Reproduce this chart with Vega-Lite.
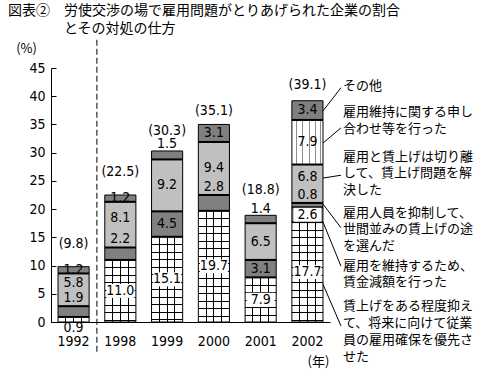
{
  "$schema": "https://vega.github.io/schema/vega-lite/v6.json",
  "autosize": "none",
  "width": 279,
  "height": 254,
  "padding": {"left": 51, "top": 68, "right": 150, "bottom": 51},
  "background": "white",
  "config": {
    "view": {"stroke": null},
    "axisY": {
      "grid": false, "tickCount": 10, "labelOverlap": false, "tickSize": -5, "tickColor": "black", "domainColor": "black", "labelPadding": 11,
      "labelFont": "Liberation Sans Narrow, DejaVu Sans Condensed, Noto Sans CJK JP", "labelFontSize": 14, "labelColor": "black",
      "titleAngle": 0, "titleX": -25, "titleY": -20, "titleAlign": "center", "titleBaseline": "middle",
      "titleFont": "Noto Sans CJK JP", "titleFontSize": 13, "titleFontWeight": "normal", "titleColor": "black"
    }
  },
  "title": {
    "text": ["図表②　労使交渉の場で雇用問題がとりあげられた企業の割合", "\u200b　　　　とその対処の仕方"],
    "anchor": "start", "frame": "group", "dx": -43, "offset": 3,
    "font": "Noto Sans CJK JP", "fontSize": 14, "fontWeight": "normal", "lineHeight": 18, "color": "black"
  },
  "datasets": {
    "main": [
      {"year": "1992", "cat": "賃上げをある程度抑えて、将来に向けて従業員の雇用確保を優先させた", "v": 0.9},
      {"year": "1992", "cat": "雇用を維持するため、賃金減額を行った", "v": 1.9},
      {"year": "1992", "cat": "雇用と賃上げは切り離して、賃上げ問題を解決した", "v": 5.8},
      {"year": "1992", "cat": "その他", "v": 1.2},
      {"year": "1998", "cat": "賃上げをある程度抑えて、将来に向けて従業員の雇用確保を優先させた", "v": 11.0},
      {"year": "1998", "cat": "雇用を維持するため、賃金減額を行った", "v": 2.2},
      {"year": "1998", "cat": "雇用と賃上げは切り離して、賃上げ問題を解決した", "v": 8.1},
      {"year": "1998", "cat": "その他", "v": 1.2},
      {"year": "1999", "cat": "賃上げをある程度抑えて、将来に向けて従業員の雇用確保を優先させた", "v": 15.1},
      {"year": "1999", "cat": "雇用を維持するため、賃金減額を行った", "v": 4.5},
      {"year": "1999", "cat": "雇用と賃上げは切り離して、賃上げ問題を解決した", "v": 9.2},
      {"year": "1999", "cat": "その他", "v": 1.5},
      {"year": "2000", "cat": "賃上げをある程度抑えて、将来に向けて従業員の雇用確保を優先させた", "v": 19.7},
      {"year": "2000", "cat": "雇用を維持するため、賃金減額を行った", "v": 2.8},
      {"year": "2000", "cat": "雇用と賃上げは切り離して、賃上げ問題を解決した", "v": 9.4},
      {"year": "2000", "cat": "その他", "v": 3.1},
      {"year": "2001", "cat": "賃上げをある程度抑えて、将来に向けて従業員の雇用確保を優先させた", "v": 7.9},
      {"year": "2001", "cat": "雇用を維持するため、賃金減額を行った", "v": 3.1},
      {"year": "2001", "cat": "雇用と賃上げは切り離して、賃上げ問題を解決した", "v": 6.5},
      {"year": "2001", "cat": "その他", "v": 1.4},
      {"year": "2002", "cat": "賃上げをある程度抑えて、将来に向けて従業員の雇用確保を優先させた", "v": 17.7},
      {"year": "2002", "cat": "雇用を維持するため、賃金減額を行った", "v": 2.6},
      {"year": "2002", "cat": "雇用人員を抑制して、世間並みの賃上げの途を選んだ", "v": 0.8},
      {"year": "2002", "cat": "雇用と賃上げは切り離して、賃上げ問題を解決した", "v": 6.8},
      {"year": "2002", "cat": "雇用維持に関する申し合わせ等を行った", "v": 7.9},
      {"year": "2002", "cat": "その他", "v": 3.4}
    ],
    "totals": [
      {"year": "1992", "total": 9.8},
      {"year": "1998", "total": 22.5},
      {"year": "1999", "total": 30.3},
      {"year": "2000", "total": 35.1},
      {"year": "2001", "total": 18.8},
      {"year": "2002", "total": 39.1}
    ]
  },
  "data": {"name": "main"},
  "transform": [
    {"calculate": "indexof(['賃上げをある程度抑えて、将来に向けて従業員の雇用確保を優先させた','雇用を維持するため、賃金減額を行った','雇用人員を抑制して、世間並みの賃上げの途を選んだ','雇用と賃上げは切り離して、賃上げ問題を解決した','雇用維持に関する申し合わせ等を行った','その他'], datum.cat)", "as": "k"},
    {"stack": "v", "groupby": ["year"], "sort": [{"field": "k", "order": "ascending"}], "as": ["y0", "y1"]}
  ],
  "encoding": {
    "x": {
      "field": "year", "type": "nominal",
      "scale": {"domain": ["1992", "1998", "1999", "2000", "2001", "2002"], "paddingInner": 0.335, "paddingOuter": 0.15},
      "axis": {
        "title": "(年)", "labelAngle": 0, "ticks": false, "labelPadding": 12,
        "labelFont": "Liberation Sans Narrow, DejaVu Sans Condensed, Noto Sans CJK JP", "labelFontSize": 14, "labelColor": "black",
        "domainColor": "black", "domainWidth": 1,
        "titleX": 267, "titleY": 39, "titleAlign": "center", "titleBaseline": "middle", "titleAnchor": null,
        "titleFont": "Noto Sans CJK JP", "titleFontSize": 13, "titleFontWeight": "normal", "titleColor": "black"
      }
    }
  },
  "layer": [
    {
      "mark": {"type": "bar", "stroke": "black", "strokeWidth": 1},
      "encoding": {
        "y": {
          "field": "y1", "type": "quantitative",
          "scale": {"domain": [0, 45], "nice": false},
          "axis": {"values": [0, 5, 10, 15, 20, 25, 30, 35, 40, 45], "title": "(%)"}
        },
        "y2": {"field": "y0"},
        "fill": {
          "field": "cat", "type": "nominal", "legend": null,
          "scale": {
            "domain": ["賃上げをある程度抑えて、将来に向けて従業員の雇用確保を優先させた", "雇用を維持するため、賃金減額を行った", "雇用人員を抑制して、世間並みの賃上げの途を選んだ", "雇用と賃上げは切り離して、賃上げ問題を解決した", "雇用維持に関する申し合わせ等を行った", "その他"],
            "range": ["#ffffff", "#808080", "#808080", "#c0c0c0", "#ffffff", "#808080"]
          }
        }
      }
    },
    {
      "transform": [{"filter": "datum.k==0 && datum.year=='1998'"}],
      "mark": {"type": "bar", "stroke": null, "fill": {"gradient": "linear", "x1": 0, "y1": 0, "x2": 0, "y2": 1, "stops": [
        {"offset": 0.1208, "color": "rgba(0,0,0,0)"}, {"offset": 0.1208, "color": "#000"}, {"offset": 0.1369, "color": "#000"}, {"offset": 0.1369, "color": "rgba(0,0,0,0)"},
        {"offset": 0.2416, "color": "rgba(0,0,0,0)"}, {"offset": 0.2416, "color": "#000"}, {"offset": 0.2577, "color": "#000"}, {"offset": 0.2577, "color": "rgba(0,0,0,0)"},
        {"offset": 0.3624, "color": "rgba(0,0,0,0)"}, {"offset": 0.3624, "color": "#000"}, {"offset": 0.3785, "color": "#000"}, {"offset": 0.3785, "color": "rgba(0,0,0,0)"},
        {"offset": 0.4832, "color": "rgba(0,0,0,0)"}, {"offset": 0.4832, "color": "#000"}, {"offset": 0.4993, "color": "#000"}, {"offset": 0.4993, "color": "rgba(0,0,0,0)"},
        {"offset": 0.6040, "color": "rgba(0,0,0,0)"}, {"offset": 0.6040, "color": "#000"}, {"offset": 0.6201, "color": "#000"}, {"offset": 0.6201, "color": "rgba(0,0,0,0)"},
        {"offset": 0.7248, "color": "rgba(0,0,0,0)"}, {"offset": 0.7248, "color": "#000"}, {"offset": 0.7409, "color": "#000"}, {"offset": 0.7409, "color": "rgba(0,0,0,0)"},
        {"offset": 0.8456, "color": "rgba(0,0,0,0)"}, {"offset": 0.8456, "color": "#000"}, {"offset": 0.8617, "color": "#000"}, {"offset": 0.8617, "color": "rgba(0,0,0,0)"},
        {"offset": 0.9664, "color": "rgba(0,0,0,0)"}, {"offset": 0.9664, "color": "#000"}, {"offset": 0.9825, "color": "#000"}, {"offset": 0.9825, "color": "rgba(0,0,0,0)"}
      ]}},
      "encoding": {"y": {"field": "y1", "type": "quantitative"}, "y2": {"field": "y0"}}
    },
    {
      "transform": [{"filter": "datum.k==0 && datum.year=='1999'"}],
      "mark": {"type": "bar", "stroke": null, "fill": {"gradient": "linear", "x1": 0, "y1": 0, "x2": 0, "y2": 1, "stops": [
        {"offset": 0.0880, "color": "rgba(0,0,0,0)"}, {"offset": 0.0880, "color": "#000"}, {"offset": 0.0997, "color": "#000"}, {"offset": 0.0997, "color": "rgba(0,0,0,0)"},
        {"offset": 0.1760, "color": "rgba(0,0,0,0)"}, {"offset": 0.1760, "color": "#000"}, {"offset": 0.1877, "color": "#000"}, {"offset": 0.1877, "color": "rgba(0,0,0,0)"},
        {"offset": 0.2640, "color": "rgba(0,0,0,0)"}, {"offset": 0.2640, "color": "#000"}, {"offset": 0.2757, "color": "#000"}, {"offset": 0.2757, "color": "rgba(0,0,0,0)"},
        {"offset": 0.3520, "color": "rgba(0,0,0,0)"}, {"offset": 0.3520, "color": "#000"}, {"offset": 0.3637, "color": "#000"}, {"offset": 0.3637, "color": "rgba(0,0,0,0)"},
        {"offset": 0.4400, "color": "rgba(0,0,0,0)"}, {"offset": 0.4400, "color": "#000"}, {"offset": 0.4517, "color": "#000"}, {"offset": 0.4517, "color": "rgba(0,0,0,0)"},
        {"offset": 0.5280, "color": "rgba(0,0,0,0)"}, {"offset": 0.5280, "color": "#000"}, {"offset": 0.5397, "color": "#000"}, {"offset": 0.5397, "color": "rgba(0,0,0,0)"},
        {"offset": 0.6160, "color": "rgba(0,0,0,0)"}, {"offset": 0.6160, "color": "#000"}, {"offset": 0.6277, "color": "#000"}, {"offset": 0.6277, "color": "rgba(0,0,0,0)"},
        {"offset": 0.7040, "color": "rgba(0,0,0,0)"}, {"offset": 0.7040, "color": "#000"}, {"offset": 0.7157, "color": "#000"}, {"offset": 0.7157, "color": "rgba(0,0,0,0)"},
        {"offset": 0.7920, "color": "rgba(0,0,0,0)"}, {"offset": 0.7920, "color": "#000"}, {"offset": 0.8037, "color": "#000"}, {"offset": 0.8037, "color": "rgba(0,0,0,0)"},
        {"offset": 0.8800, "color": "rgba(0,0,0,0)"}, {"offset": 0.8800, "color": "#000"}, {"offset": 0.8917, "color": "#000"}, {"offset": 0.8917, "color": "rgba(0,0,0,0)"},
        {"offset": 0.9680, "color": "rgba(0,0,0,0)"}, {"offset": 0.9680, "color": "#000"}, {"offset": 0.9797, "color": "#000"}, {"offset": 0.9797, "color": "rgba(0,0,0,0)"}
      ]}},
      "encoding": {"y": {"field": "y1", "type": "quantitative"}, "y2": {"field": "y0"}}
    },
    {
      "transform": [{"filter": "datum.k==0 && datum.year=='2000'"}],
      "mark": {"type": "bar", "stroke": null, "fill": {"gradient": "linear", "x1": 0, "y1": 0, "x2": 0, "y2": 1, "stops": [
        {"offset": 0.0675, "color": "rgba(0,0,0,0)"}, {"offset": 0.0675, "color": "#000"}, {"offset": 0.0765, "color": "#000"}, {"offset": 0.0765, "color": "rgba(0,0,0,0)"},
        {"offset": 0.1349, "color": "rgba(0,0,0,0)"}, {"offset": 0.1349, "color": "#000"}, {"offset": 0.1439, "color": "#000"}, {"offset": 0.1439, "color": "rgba(0,0,0,0)"},
        {"offset": 0.2024, "color": "rgba(0,0,0,0)"}, {"offset": 0.2024, "color": "#000"}, {"offset": 0.2114, "color": "#000"}, {"offset": 0.2114, "color": "rgba(0,0,0,0)"},
        {"offset": 0.2698, "color": "rgba(0,0,0,0)"}, {"offset": 0.2698, "color": "#000"}, {"offset": 0.2788, "color": "#000"}, {"offset": 0.2788, "color": "rgba(0,0,0,0)"},
        {"offset": 0.3373, "color": "rgba(0,0,0,0)"}, {"offset": 0.3373, "color": "#000"}, {"offset": 0.3463, "color": "#000"}, {"offset": 0.3463, "color": "rgba(0,0,0,0)"},
        {"offset": 0.4047, "color": "rgba(0,0,0,0)"}, {"offset": 0.4047, "color": "#000"}, {"offset": 0.4137, "color": "#000"}, {"offset": 0.4137, "color": "rgba(0,0,0,0)"},
        {"offset": 0.4722, "color": "rgba(0,0,0,0)"}, {"offset": 0.4722, "color": "#000"}, {"offset": 0.4812, "color": "#000"}, {"offset": 0.4812, "color": "rgba(0,0,0,0)"},
        {"offset": 0.5396, "color": "rgba(0,0,0,0)"}, {"offset": 0.5396, "color": "#000"}, {"offset": 0.5486, "color": "#000"}, {"offset": 0.5486, "color": "rgba(0,0,0,0)"},
        {"offset": 0.6071, "color": "rgba(0,0,0,0)"}, {"offset": 0.6071, "color": "#000"}, {"offset": 0.6161, "color": "#000"}, {"offset": 0.6161, "color": "rgba(0,0,0,0)"},
        {"offset": 0.6745, "color": "rgba(0,0,0,0)"}, {"offset": 0.6745, "color": "#000"}, {"offset": 0.6835, "color": "#000"}, {"offset": 0.6835, "color": "rgba(0,0,0,0)"},
        {"offset": 0.7420, "color": "rgba(0,0,0,0)"}, {"offset": 0.7420, "color": "#000"}, {"offset": 0.7510, "color": "#000"}, {"offset": 0.7510, "color": "rgba(0,0,0,0)"},
        {"offset": 0.8094, "color": "rgba(0,0,0,0)"}, {"offset": 0.8094, "color": "#000"}, {"offset": 0.8184, "color": "#000"}, {"offset": 0.8184, "color": "rgba(0,0,0,0)"},
        {"offset": 0.8769, "color": "rgba(0,0,0,0)"}, {"offset": 0.8769, "color": "#000"}, {"offset": 0.8859, "color": "#000"}, {"offset": 0.8859, "color": "rgba(0,0,0,0)"},
        {"offset": 0.9443, "color": "rgba(0,0,0,0)"}, {"offset": 0.9443, "color": "#000"}, {"offset": 0.9533, "color": "#000"}, {"offset": 0.9533, "color": "rgba(0,0,0,0)"}
      ]}},
      "encoding": {"y": {"field": "y1", "type": "quantitative"}, "y2": {"field": "y0"}}
    },
    {
      "transform": [{"filter": "datum.k==0 && datum.year=='2001'"}],
      "mark": {"type": "bar", "stroke": null, "fill": {"gradient": "linear", "x1": 0, "y1": 0, "x2": 0, "y2": 1, "stops": [
        {"offset": 0.1682, "color": "rgba(0,0,0,0)"}, {"offset": 0.1682, "color": "#000"}, {"offset": 0.1906, "color": "#000"}, {"offset": 0.1906, "color": "rgba(0,0,0,0)"},
        {"offset": 0.3364, "color": "rgba(0,0,0,0)"}, {"offset": 0.3364, "color": "#000"}, {"offset": 0.3588, "color": "#000"}, {"offset": 0.3588, "color": "rgba(0,0,0,0)"},
        {"offset": 0.5046, "color": "rgba(0,0,0,0)"}, {"offset": 0.5046, "color": "#000"}, {"offset": 0.5270, "color": "#000"}, {"offset": 0.5270, "color": "rgba(0,0,0,0)"},
        {"offset": 0.6728, "color": "rgba(0,0,0,0)"}, {"offset": 0.6728, "color": "#000"}, {"offset": 0.6952, "color": "#000"}, {"offset": 0.6952, "color": "rgba(0,0,0,0)"},
        {"offset": 0.8410, "color": "rgba(0,0,0,0)"}, {"offset": 0.8410, "color": "#000"}, {"offset": 0.8634, "color": "#000"}, {"offset": 0.8634, "color": "rgba(0,0,0,0)"}
      ]}},
      "encoding": {"y": {"field": "y1", "type": "quantitative"}, "y2": {"field": "y0"}}
    },
    {
      "transform": [{"filter": "datum.k==0 && datum.year=='2002'"}],
      "mark": {"type": "bar", "stroke": null, "fill": {"gradient": "linear", "x1": 0, "y1": 0, "x2": 0, "y2": 1, "stops": [
        {"offset": 0.0751, "color": "rgba(0,0,0,0)"}, {"offset": 0.0751, "color": "#000"}, {"offset": 0.0851, "color": "#000"}, {"offset": 0.0851, "color": "rgba(0,0,0,0)"},
        {"offset": 0.1501, "color": "rgba(0,0,0,0)"}, {"offset": 0.1501, "color": "#000"}, {"offset": 0.1601, "color": "#000"}, {"offset": 0.1601, "color": "rgba(0,0,0,0)"},
        {"offset": 0.2252, "color": "rgba(0,0,0,0)"}, {"offset": 0.2252, "color": "#000"}, {"offset": 0.2352, "color": "#000"}, {"offset": 0.2352, "color": "rgba(0,0,0,0)"},
        {"offset": 0.3003, "color": "rgba(0,0,0,0)"}, {"offset": 0.3003, "color": "#000"}, {"offset": 0.3103, "color": "#000"}, {"offset": 0.3103, "color": "rgba(0,0,0,0)"},
        {"offset": 0.3753, "color": "rgba(0,0,0,0)"}, {"offset": 0.3753, "color": "#000"}, {"offset": 0.3853, "color": "#000"}, {"offset": 0.3853, "color": "rgba(0,0,0,0)"},
        {"offset": 0.4504, "color": "rgba(0,0,0,0)"}, {"offset": 0.4504, "color": "#000"}, {"offset": 0.4604, "color": "#000"}, {"offset": 0.4604, "color": "rgba(0,0,0,0)"},
        {"offset": 0.5255, "color": "rgba(0,0,0,0)"}, {"offset": 0.5255, "color": "#000"}, {"offset": 0.5355, "color": "#000"}, {"offset": 0.5355, "color": "rgba(0,0,0,0)"},
        {"offset": 0.6005, "color": "rgba(0,0,0,0)"}, {"offset": 0.6005, "color": "#000"}, {"offset": 0.6105, "color": "#000"}, {"offset": 0.6105, "color": "rgba(0,0,0,0)"},
        {"offset": 0.6756, "color": "rgba(0,0,0,0)"}, {"offset": 0.6756, "color": "#000"}, {"offset": 0.6856, "color": "#000"}, {"offset": 0.6856, "color": "rgba(0,0,0,0)"},
        {"offset": 0.7507, "color": "rgba(0,0,0,0)"}, {"offset": 0.7507, "color": "#000"}, {"offset": 0.7607, "color": "#000"}, {"offset": 0.7607, "color": "rgba(0,0,0,0)"},
        {"offset": 0.8257, "color": "rgba(0,0,0,0)"}, {"offset": 0.8257, "color": "#000"}, {"offset": 0.8357, "color": "#000"}, {"offset": 0.8357, "color": "rgba(0,0,0,0)"},
        {"offset": 0.9008, "color": "rgba(0,0,0,0)"}, {"offset": 0.9008, "color": "#000"}, {"offset": 0.9108, "color": "#000"}, {"offset": 0.9108, "color": "rgba(0,0,0,0)"},
        {"offset": 0.9759, "color": "rgba(0,0,0,0)"}, {"offset": 0.9759, "color": "#000"}, {"offset": 0.9859, "color": "#000"}, {"offset": 0.9859, "color": "rgba(0,0,0,0)"}
      ]}},
      "encoding": {"y": {"field": "y1", "type": "quantitative"}, "y2": {"field": "y0"}}
    },
    {
      "transform": [{"filter": "datum.k==0"}],
      "mark": {"type": "bar", "stroke": null, "fill": {"gradient": "linear", "x1": 0, "y1": 0, "x2": 1, "y2": 0, "stops": [
        {"offset": 0.234, "color": "rgba(0,0,0,0)"}, {"offset": 0.234, "color": "#000"}, {"offset": 0.266, "color": "#000"}, {"offset": 0.266, "color": "rgba(0,0,0,0)"},
        {"offset": 0.484, "color": "rgba(0,0,0,0)"}, {"offset": 0.484, "color": "#000"}, {"offset": 0.516, "color": "#000"}, {"offset": 0.516, "color": "rgba(0,0,0,0)"},
        {"offset": 0.734, "color": "rgba(0,0,0,0)"}, {"offset": 0.734, "color": "#000"}, {"offset": 0.766, "color": "#000"}, {"offset": 0.766, "color": "rgba(0,0,0,0)"}
      ]}},
      "encoding": {"y": {"field": "y1", "type": "quantitative"}, "y2": {"field": "y0"}}
    },
    {
      "transform": [{"filter": "datum.k==4"}],
      "mark": {"type": "bar", "stroke": null, "fill": {"gradient": "linear", "x1": 0, "y1": 0, "x2": 1, "y2": 0, "stops": [
        {"offset": 0.14, "color": "rgba(0,0,0,0)"}, {"offset": 0.14, "color": "rgba(0,0,0,0.45)"}, {"offset": 0.172, "color": "rgba(0,0,0,0.45)"}, {"offset": 0.172, "color": "rgba(0,0,0,0)"},
        {"offset": 0.34, "color": "rgba(0,0,0,0)"}, {"offset": 0.34, "color": "rgba(0,0,0,0.45)"}, {"offset": 0.372, "color": "rgba(0,0,0,0.45)"}, {"offset": 0.372, "color": "rgba(0,0,0,0)"},
        {"offset": 0.54, "color": "rgba(0,0,0,0)"}, {"offset": 0.54, "color": "rgba(0,0,0,0.45)"}, {"offset": 0.572, "color": "rgba(0,0,0,0.45)"}, {"offset": 0.572, "color": "rgba(0,0,0,0)"},
        {"offset": 0.74, "color": "rgba(0,0,0,0)"}, {"offset": 0.74, "color": "rgba(0,0,0,0.45)"}, {"offset": 0.772, "color": "rgba(0,0,0,0.45)"}, {"offset": 0.772, "color": "rgba(0,0,0,0)"},
        {"offset": 0.9, "color": "rgba(0,0,0,0)"}, {"offset": 0.9, "color": "rgba(0,0,0,0.45)"}, {"offset": 0.932, "color": "rgba(0,0,0,0.45)"}, {"offset": 0.932, "color": "rgba(0,0,0,0)"}
      ]}},
      "encoding": {"y": {"field": "y1", "type": "quantitative"}, "y2": {"field": "y0"}}
    },
    {
      "transform": [{"filter": "datum.k!=5"}],
      "mark": {"type": "tick", "orient": "horizontal", "thickness": 2, "size": 31, "color": "black", "opacity": 1},
      "encoding": {"y": {"field": "y1", "type": "quantitative"}}
    },
    {
      "transform": [
        {"filter": "(datum.k==0 && datum.year!='1992') || (datum.k==1 && datum.year=='2002')"},
        {"calculate": "(datum.y0+datum.y1)/2", "as": "ly"}
      ],
      "mark": {"type": "point", "shape": "M-1,-0.5H1V0.5H-1Z", "size": 784, "filled": true, "color": "white", "opacity": 1, "strokeWidth": 0},
      "encoding": {"y": {"field": "ly", "type": "quantitative"}}
    },
    {
      "transform": [
        {"calculate": "datum.k==0 && datum.year=='1992' ? -1.0 : ((datum.k==5 && indexof(['1999','2001'], datum.year) >= 0) ? datum.y1 + 1.15 : (((datum.k==1 && indexof(['1992','1998','2000'], datum.year) >= 0) || datum.k==2) ? datum.y1 + 1.45 : ((datum.k==3 && indexof(['1992','1998','2002'], datum.year) >= 0) ? (datum.y0+datum.y1)/2 + 1.2 : (datum.y0+datum.y1)/2)))", "as": "ly"},
        {"calculate": "format(datum.v, '.1f')", "as": "lab"}
      ],
      "mark": {"type": "text", "font": "Liberation Sans Narrow, DejaVu Sans Condensed, Noto Sans CJK JP", "fontSize": 14, "color": "black", "baseline": "middle", "align": "center"},
      "encoding": {"y": {"field": "ly", "type": "quantitative"}, "text": {"field": "lab", "type": "nominal"}}
    },
    {
      "data": {"name": "totals"},
      "transform": [
        {"calculate": "datum.total + [4.0,4.1,3.5,2.3,4.6,2.9][indexof(['1992','1998','1999','2000','2001','2002'], datum.year)]", "as": "ty"},
        {"calculate": "'(' + format(datum.total, '.1f') + ')'", "as": "tl"}
      ],
      "mark": {"type": "text", "font": "Liberation Sans Narrow, DejaVu Sans Condensed, Noto Sans CJK JP", "fontSize": 14, "color": "black", "baseline": "middle", "align": "center"},
      "encoding": {"y": {"field": "ty", "type": "quantitative"}, "text": {"field": "tl", "type": "nominal"}}
    },
    {
      "data": {"values": [{}]},
      "mark": {"type": "rule", "color": "black", "strokeWidth": 1, "strokeDash": [6, 3]},
      "encoding": {
        "x": {"datum": "1992", "bandPosition": 1.25},
        "y": {"datum": 50, "type": "quantitative"},
        "y2": {"datum": -5.3}
      }
    },
    {
      "transform": [
        {"filter": "datum.year=='2002'"},
        {"calculate": "[6.7, 17.7, 20.9, 25.5, 31.7, 37.4][datum.k]", "as": "ls"},
        {"calculate": "[-0.7, 9.9, 16.7, 26.0, 34.4, 41.5][datum.k]", "as": "le"}
      ],
      "mark": {"type": "rule", "color": "black", "strokeWidth": 1, "x2Offset": 18},
      "encoding": {
        "x": {"datum": "2002", "bandPosition": 1},
        "x2": {"datum": "2002", "bandPosition": 1},
        "y": {"field": "ls", "type": "quantitative"},
        "y2": {"field": "le"}
      }
    },
    {
      "transform": [
        {"filter": "datum.year=='2002'"},
        {"calculate": "[3.81, 11.07, 20.46, 30.38, 38.18, 42.96][datum.k]", "as": "nt"},
        {"calculate": "[substring(datum.cat,0,10), substring(datum.cat,10,20), substring(datum.cat,20,30), substring(datum.cat,30,40)]", "as": "lines"}
      ],
      "mark": {"type": "text", "font": "Noto Sans CJK JP", "fontSize": 13, "lineHeight": 16.7, "color": "black", "align": "left", "baseline": "top", "dx": 20},
      "encoding": {
        "x": {"datum": "2002", "bandPosition": 1},
        "y": {"field": "nt", "type": "quantitative"},
        "text": {"field": "lines"}
      }
    }
  ]
}
